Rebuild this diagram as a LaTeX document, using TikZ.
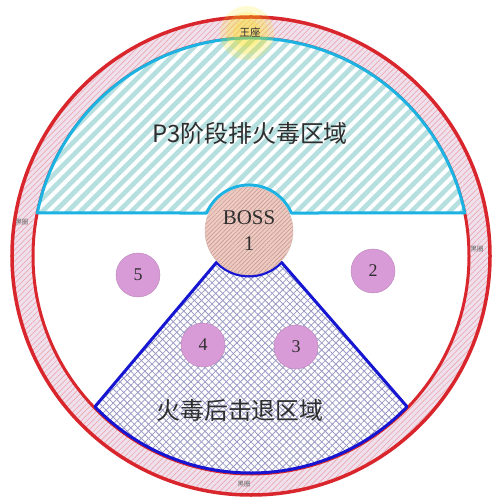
\documentclass[tikz,border=0pt]{standalone}
\usepackage{fontspec}
\setmainfont{Liberation Serif}
\newfontfamily\cjk{Noto Sans CJK SC}
\usetikzlibrary{patterns.meta,calc}

\definecolor{ringred}{HTML}{D8262C}
\definecolor{ringfill}{HTML}{EFE0EE}
\definecolor{zonecyan}{HTML}{1CB2E2}
\definecolor{cyanfill}{HTML}{B6DFE0}
\definecolor{zoneblue}{HTML}{1616D2}
\definecolor{gridblue}{HTML}{9A9AC4}
\definecolor{bossfill}{HTML}{EDCBC3}
\definecolor{bosshatch}{HTML}{C4938A}
\definecolor{spotpink}{HTML}{D99BD8}
\definecolor{textgray}{HTML}{2E2E2E}

\begin{document}
\begin{tikzpicture}[x=1bp, y=1bp,
    redline/.style={draw=ringred, line width=3.5bp},
    spot/.style={circle, fill=spotpink, draw=spotpink!85!black, thin,
                 minimum size=44bp, inner sep=0pt, text=textgray,
                 font=\fontsize{18}{18}\selectfont},
    bossdisk/.style={circle, minimum size=88bp, inner sep=0pt,
                 preaction={fill=bossfill},
                 pattern={Lines[angle=45,distance=3bp,line width=0.5bp]},
                 pattern color=bosshatch, draw=bosshatch!70, thin},
    bigtext/.style={text=textgray, font=\cjk\fontsize{24}{24}\selectfont},
    tinytext/.style={text=textgray!75, font=\cjk\fontsize{6.5}{6.5}\selectfont}]
\useasboundingbox (-251,-246) rectangle (249,256);
\coordinate (c) at (0,0);
\coordinate (boss) at (-2,25);

% black ring round the arena
\fill[ringfill, even odd rule] (c) circle (239) (c) circle (218);
\fill[pattern={Lines[angle=45,distance=4bp,line width=0.5bp]},
      pattern color=ringred!45, even odd rule] (c) circle (239) (c) circle (218);
\fill[white] (c) circle (218);
\draw[redline] (c) circle (239);
\draw[redline, line width=3bp] (c) circle (218);

% P3 zone
\path[preaction={fill=cyanfill},
      pattern={Lines[angle=45,distance=9bp,line width=4bp]}, pattern color=white,
      draw=zonecyan, line width=3bp, line join=round]
  (168.62:218) arc[start angle=168.62, end angle=11.38, radius=218]
  -- ($(boss)+(23.03:46)$) arc[start angle=23.03, end angle=156.97, radius=46]
  -- cycle;

% knockback zone
\path[preaction={fill=white},
      preaction={pattern={Lines[angle=45,distance=5bp,line width=0.8bp]}, pattern color=gridblue},
      pattern={Lines[angle=-45,distance=5bp,line width=0.8bp]}, pattern color=gridblue,
      draw=zoneblue, line width=3bp, line join=round]
  (-136:217) -- ($(boss)+(-136:45)$) arc[start angle=-136, end angle=-44, radius=45]
  -- (-44:217) arc[start angle=-44, end angle=-136, radius=217] -- cycle;

% boss
\node[bossdisk] (bossnode) at (boss) {};
\node[text=textgray, font=\fontsize{21}{26}\selectfont, align=center] (bosslabel) at (boss) {BOSS\\1};

% stand points
\node[spot] (p5) at (-113,-19) {5};
\node[spot] (p2) at (122,-15) {2};
\node[spot] (p4) at (-48,-89) {4};
\node[spot] (p3) at (45,-91) {3};

% throne glow
\fill[yellow!85!orange, opacity=0.18] (-4,223) circle (27);
\fill[yellow!85!orange, opacity=0.18] (-4,223) circle (21);
\fill[yellow!85!orange, opacity=0.18] (-4,223) circle (14);

% labels
\node[bigtext] (p3zone) at (-1,123) {P3阶段排火毒区域};
\node[bigtext] (kbzone) at (-11,-154) {火毒后击退区域};
\node[text=textgray, font=\cjk\fontsize{10.5}{10.5}\selectfont] (throne) at (-1,224) {王座};
\node[tinytext] (ringl) at (-229,34) {黑圈};
\node[tinytext] (ringr) at (226,7) {黑圈};
\node[tinytext] (ringb) at (-7,-228) {黑圈};
\end{tikzpicture}
\end{document}
